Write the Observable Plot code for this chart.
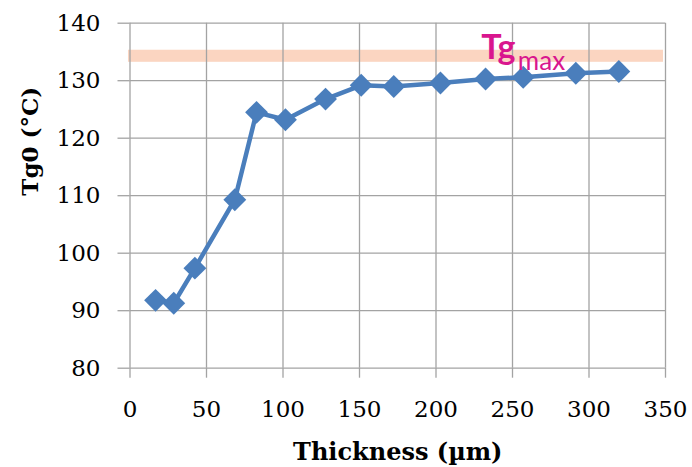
<!DOCTYPE html>
<html>
<head>
<meta charset="utf-8">
<script src="https://cdn.jsdelivr.net/npm/d3@7"></script>
<script src="https://cdn.jsdelivr.net/npm/@observablehq/plot@0.6"></script>
<style>
  html, body { margin: 0; padding: 0; background: #fff; }
  #chart svg { display: block; }
</style>
</head>
<body>
<div id="chart"></div>
<script>
// Data
const thickness = [16.7, 28.6, 42.4, 68.5, 82.7, 101.6, 127.8, 151.1, 172.4, 202.9, 232.4, 257.0, 291.4, 319.5];
const tg0 =       [91.8, 91.3, 97.4, 109.3, 124.5, 123.2, 126.8, 129.2, 129.0, 129.6, 130.3, 130.6, 131.3, 131.6];
const xTicks = [0, 50, 100, 150, 200, 250, 300, 350];
const yTicks = [80, 90, 100, 110, 120, 130, 140];
const bandX = [-1, 348.7];
const bandY = [133.2, 135.3];
const xLabel = "Thickness (µm)";
const yLabel = "Tg0 (°C)";
const tgLabel = ["Tg"];
const tgSub = ["max"];
const tgLabelPos = [229.5, 133.8];
const tgSubPos = [253.5, 131.9];

const points = thickness.map((t, i) => ({thickness: t, tg0: tg0[i]}));
const band = [{x1: bandX[0], x2: bandX[1], y1: bandY[0], y2: bandY[1]}];

const grid = "#a3a3a3";
const blue = "#4a7ebc";
const magenta = "#d9168e";

const chart = Plot.plot({
  width: 692,
  height: 467,
  marginLeft: 129.5,
  marginRight: 27,
  marginTop: 22.7,
  marginBottom: 99.3,
  style: {fontFamily: "DejaVu Serif", background: "#fff", overflow: "visible"},
  x: {domain: [0, 350]},
  y: {domain: [80, 140]},
  marks: [
    Plot.rect(band, {x1: "x1", x2: "x2", y1: "y1", y2: "y2", fill: "#fbd5c1", clip: false}),
    Plot.gridX({ticks: xTicks, stroke: grid, strokeOpacity: 1, strokeWidth: 1.3}),
    Plot.gridY({ticks: yTicks, stroke: grid, strokeOpacity: 1, strokeWidth: 1.3}),
    Plot.axisX({ticks: xTicks, tickSize: 10, tickPadding: 22, stroke: grid, strokeWidth: 1.3, fill: "#000",
      fontSize: 23, fontFamily: "DejaVu Serif", label: null}),
    Plot.axisY({ticks: yTicks, tickSize: 12, tickPadding: 17.5, stroke: grid, strokeWidth: 1.3, fill: "#000",
      fontSize: 23, fontFamily: "DejaVu Serif", label: null}),
    Plot.line(points, {x: "thickness", y: "tg0", stroke: blue, strokeWidth: 4.5, strokeLinejoin: "round"}),
    Plot.dot(points, {x: "thickness", y: "tg0", symbol: "diamond2", r: 10.3, fill: blue, stroke: "none"}),
    Plot.text(tgLabel, {x: tgLabelPos[0], y: tgLabelPos[1], text: d => d, textAnchor: "start", lineAnchor: "bottom",
      fontFamily: "Lato", fontWeight: "bold", fontSize: 34, fill: magenta}),
    Plot.text(tgSub, {x: tgSubPos[0], y: tgSubPos[1], text: d => d, textAnchor: "start", lineAnchor: "bottom",
      fontFamily: "Lato", fontSize: 26, fill: magenta}),
    Plot.text([xLabel], {frameAnchor: "bottom", text: d => d, dy: 91.6, lineAnchor: "bottom",
      fontFamily: "DejaVu Serif", fontWeight: "bold", fontSize: 24, fill: "#000"}),
    Plot.text([yLabel], {frameAnchor: "left", text: d => d, dx: -92.5, rotate: -90, lineAnchor: "bottom",
      fontFamily: "DejaVu Serif", fontWeight: "bold", fontSize: 23, fill: "#000"})
  ]
});
document.getElementById("chart").appendChild(chart);
</script>
</body>
</html>
